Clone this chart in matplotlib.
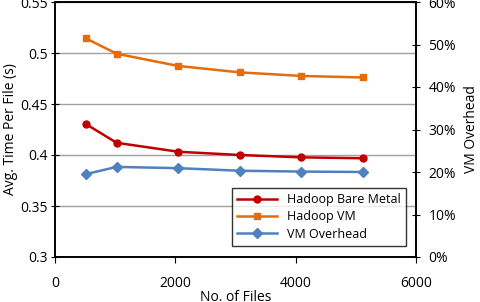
import numpy as np
import matplotlib
matplotlib.use("Agg")
import matplotlib.pyplot as plt

plt.rcParams['font.family'] = ['Open Sans', 'DejaVu Sans']

files = [512, 1024, 2048, 3072, 4096, 5120]
bare_metal = [0.4304, 0.4120, 0.4032, 0.4000, 0.3977, 0.3968]
hadoop_vm = [0.5144, 0.4993, 0.4873, 0.4810, 0.4775, 0.4760]
vm_overhead = [0.195, 0.212, 0.209, 0.203, 0.201, 0.200]

fig = plt.figure(figsize=(4.8, 3.02), dpi=100)
ax = fig.add_axes([55 / 480, 45 / 302, 361 / 480, 255 / 302])
ax2 = ax.twinx()

ax.plot(files, bare_metal, color='#C00000', marker='o', markersize=5, lw=1.8,
        label='Hadoop Bare Metal')
ax.plot(files, hadoop_vm, color='#E46C0A', marker='s', markersize=5, lw=1.8,
        label='Hadoop VM')
ax2.plot(files, vm_overhead, color='#4F81BD', marker='D', markersize=5, lw=1.8,
         label='VM Overhead')

ax.set_xlim(0, 6000)
ax.set_ylim(0.3, 0.55)
ax2.set_ylim(0, 0.6)
ax.set_xticks([0, 2000, 4000, 6000])
ax.set_yticks([0.3, 0.35, 0.4, 0.45, 0.5, 0.55])
ax.set_yticklabels(['0.3', '0.35', '0.4', '0.45', '0.5', '0.55'])
ax2.set_yticks(np.arange(0, 0.61, 0.1))
ax2.set_yticklabels([f'{int(round(v * 100))}%' for v in np.arange(0, 0.61, 0.1)])

ax.grid(axis='y', color='#A0A0A0', lw=1)
ax.set_axisbelow(True)
for a in (ax, ax2):
    for s in a.spines.values():
        s.set_color('black')
        s.set_linewidth(1.2)
ax.tick_params(axis='y', direction='inout', length=6, labelsize=10, pad=2)
ax.tick_params(axis='x', direction='out', length=4, labelsize=10, pad=10)
ax2.tick_params(axis='y', direction='inout', length=6, labelsize=10, pad=6)

ax.set_xlabel('No. of Files', fontsize=10, labelpad=-1)
ax.set_ylabel('Avg. Time Per File (s)', fontsize=10, labelpad=2)
ax2.set_ylabel('VM Overhead', fontsize=10, rotation=90, labelpad=6)

h1, l1 = ax.get_legend_handles_labels()
h2, l2 = ax2.get_legend_handles_labels()
leg = ax2.legend(h1 + h2, l1 + l2, loc='lower right', bbox_to_anchor=(0.99, 0.02),
                 fontsize=9, frameon=True, fancybox=False, handlelength=3.2,
                 borderpad=0.4, labelspacing=0.35)
leg.get_frame().set_edgecolor('black')
leg.get_frame().set_linewidth(1.0)

fig.savefig('out.png', dpi=100)
